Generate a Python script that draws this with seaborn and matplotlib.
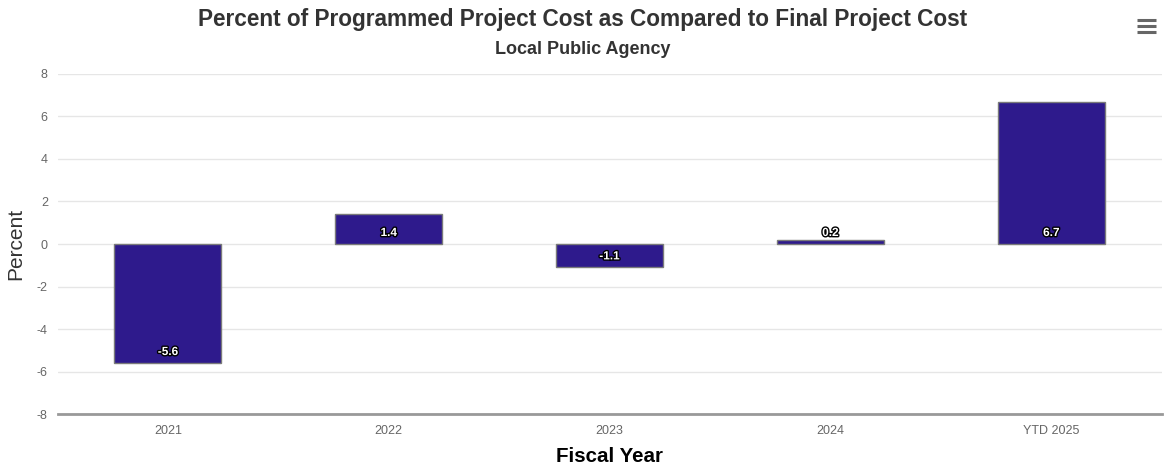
import numpy as np
import pandas as pd
import matplotlib
matplotlib.use("Agg")
import matplotlib.pyplot as plt
import matplotlib.patheffects as pe
from matplotlib.lines import Line2D
import seaborn as sns

# ================== DATA ==================
years = ["2021", "2022", "2023", "2024", "YTD 2025"]
percent = [-5.6, 1.4, -1.1, 0.2, 6.7]
y_ticks = [-8, -6, -4, -2, 0, 2, 4, 6, 8]

df = pd.DataFrame({"Fiscal Year": years, "Percent": percent})

# ================== STYLE ==================
sns.set_style("white")
plt.rcParams["font.family"] = ["Liberation Sans", "DejaVu Sans"]

bar_color = "#2e1a8c"

fig = plt.figure(figsize=(11.72, 4.70), dpi=100)
ax = fig.add_axes([0.0491, 0.1191, 0.9420, 0.7235])

sns.barplot(data=df, x="Fiscal Year", y="Percent", color=bar_color,
            width=0.485, edgecolor="#7a7a7a", linewidth=1.0,
            saturation=1, ax=ax, zorder=3)

ax.set_ylim(-8, 8)
ax.set_xlim(-0.5, len(years) - 0.5)
ax.set_yticks(y_ticks)
ax.set_yticklabels([str(t) for t in y_ticks])
ax.grid(axis="y", color="#e6e6e6", linewidth=1, zorder=0)
ax.grid(axis="x", visible=False)

for s in ["top", "right", "left"]:
    ax.spines[s].set_visible(False)
ax.spines["bottom"].set_color("#999999")
ax.spines["bottom"].set_linewidth(2)

ax.tick_params(axis="both", length=0, colors="#666666", labelsize=9)
ax.tick_params(axis="y", pad=7)
ax.tick_params(axis="x", pad=8)

ax.set_xlabel("Fiscal Year", fontsize=14.8, fontweight="bold", color="#000000", labelpad=7)
ax.set_ylabel("Percent", fontsize=15, color="#333333", labelpad=8)

# data labels, inside near the bar base
for i, v in enumerate(percent):
    ax.annotate(f"{v}", xy=(i, min(v, 0)), xytext=(0, 11),
                textcoords="offset pixels", ha="center", va="center",
                fontsize=8.5, fontweight="bold", color="white", zorder=5,
                path_effects=[pe.withStroke(linewidth=2, foreground="black")])

fig.text(0.497, 0.959, "Percent of Programmed Project Cost as Compared to Final Project Cost",
         ha="center", va="center", fontsize=16.3, fontweight="bold", color="#333333")
fig.text(0.497, 0.895, "Local Public Agency",
         ha="center", va="center", fontsize=13, fontweight="bold", color="#333333")

# menu icon
for yp in [20, 26, 32]:
    fig.add_artist(Line2D([1137 / 1172, 1156 / 1172], [1 - yp / 470, 1 - yp / 470],
                          color="#666666", linewidth=2.2, solid_capstyle="butt"))

fig.savefig("out.png", dpi=100)
